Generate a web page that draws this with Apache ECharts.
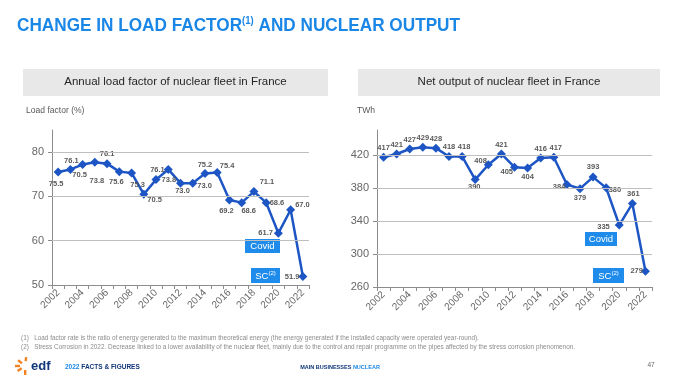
<!DOCTYPE html>
<html>
<head>
<meta charset="utf-8">
<script src="https://cdn.jsdelivr.net/npm/echarts@6/dist/echarts.min.js"></script>
<style>
html,body{margin:0;padding:0;background:#fff;}
#c{width:680px;height:379px;}
</style>
</head>
<body>
<div id="c"></div>
<script>
// ---- data ----
const years = ['2002','2003','2004','2005','2006','2007','2008','2009','2010','2011','2012','2013','2014','2015','2016','2017','2018','2019','2020','2021','2022'];
const loadFactor = [75.5, 76.1, 77.2, 77.7, 77.4, 75.6, 75.3, 70.5, 73.8, 76.1, 73.0, 73.0, 75.2, 75.4, 69.2, 68.6, 71.1, 68.6, 61.7, 67.0, 51.9];
const loadFactorLabels = ['75.5','76.1','70.5','73.8','76.1','75.6','75.3','70.5','73.8','76.1','73.0','73.0','75.2','75.4','69.2','68.6','71.1','68.6','61.7','67.0','51.9'];
const netOutput = [417, 421, 427, 429, 428, 418, 418, 390, 408, 421, 405, 404, 416, 417, 384, 379, 393, 380, 335, 361, 279];
const netOutputLabels = ['417','421','427','429','428','418','418','390','408','421','405','404','416','417','384','379','393','380','335','361','279'];
const loadFactorTicks = [50, 60, 70, 80];
const netOutputTicks = [260, 300, 340, 380, 420];

// ---- label placement (style) ----
const leftPlace = [
  ['bottom',-2,1],['top',1,2],['bottom',-3,0],['bottom',2,8],['top',0,1],['bottom',-3,0],['bottom',6,1],
  ['right',-3,6],['right',-1,0],['left',3,1],['bottom',2,-3],['right',-2,3],['top',0,2],['right',-4,-7],
  ['bottom',-3,0],['bottom',7,-2],['top',13,1],['right',-3,0],['left',1,0],['right',-2,-5],['left',3,0]
];
const rightPlace = [
  ['top',0,1],['top',0,1],['top',0,1],['top',0,1],['top',0,1],['top',0,1],['top',2,1],
  ['bottom',-1,-3],['left',5,-4],['top',0,1],['left',5,5],['bottom',0,-2],['top',0,1],['top',2,1],
  ['left',5,2],['bottom',0,-1],['top',0,0],['right',-4,2],['left',-3,2],['top',1,1],['left',4,0]
];

const FONT = "'Liberation Sans', Arial, sans-serif";
const LINE = '#1d56c4';
const BOX = '#1f8ceb';
const GRAY = '#666666';

function buildData(vals, labels, place) {
  return vals.map((v, i) => ({
    value: v,
    label: { position: place[i][0], offset: [place[i][1], place[i][2]], formatter: labels[i] }
  }));
}

function xAxisCfg(gi) {
  return {
    type: 'category', gridIndex: gi, data: years, boundaryGap: true,
    axisLine: { show: true, lineStyle: { color: '#8c8c8c', width: 1 } },
    axisTick: { show: true, interval: 0, length: 4, lineStyle: { color: '#8c8c8c' } },
    axisLabel: { interval: 1, rotate: 45, fontSize: 10, color: GRAY, fontFamily: FONT, margin: 6 },
    splitLine: { show: false }
  };
}
function yAxisCfg(gi, min, max, ticks) {
  return {
    type: 'value', gridIndex: gi, min: min, max: max,
    axisLine: { show: true, lineStyle: { color: '#8c8c8c', width: 1 } },
    axisTick: { show: true, length: 4, lineStyle: { color: '#8c8c8c' }, customValues: ticks },
    axisLabel: { fontSize: 11, color: GRAY, fontFamily: FONT, margin: 8, customValues: ticks },
    splitLine: { show: false }
  };
}
function seriesCfg(gi, vals, labels, place, grid) {
  return {
    type: 'line', xAxisIndex: gi, yAxisIndex: gi,
    data: buildData(vals, labels, place),
    symbol: 'diamond', symbolSize: 9, showAllSymbol: true,
    lineStyle: { color: LINE, width: 2.5 },
    itemStyle: { color: LINE },
    label: { show: true, fontSize: 7.5, fontWeight: 'bold', color: '#595959', fontFamily: FONT, distance: 2 },
    markLine: {
      silent: true, symbol: 'none', label: { show: false },
      lineStyle: { color: '#bfbfbf', width: 1, type: 'solid' },
      data: grid.map(g => ({ yAxis: g }))
    },
    z: 3
  };
}

function tag(x, y, w, h, content) {
  return {
    type: 'group', children: [
      { type: 'rect', shape: { x: x, y: y, width: w, height: h }, style: { fill: BOX } },
      { type: 'text', x: x + w / 2, y: y + h / 2 + 0.5, style: {
          text: content, align: 'center', verticalAlign: 'middle', fill: '#fff', fontFamily: FONT, fontSize: 9.5,
          rich: { n: { fontSize: 9.5, fill: '#fff', fontFamily: FONT }, s: { fontSize: 6, fill: '#fff', fontFamily: FONT, verticalAlign: 'top', padding: [0,0,5,0] } }
        } }
    ]
  };
}

const chart = echarts.init(document.getElementById('c'), null, { renderer: 'canvas' });

chart.setOption({
  animation: false,
  backgroundColor: '#ffffff',
  grid: [
    { left: 52, top: 130, width: 257, height: 155 },
    { left: 377, top: 130, width: 275, height: 157 }
  ],
  xAxis: [xAxisCfg(0), xAxisCfg(1)],
  yAxis: [yAxisCfg(0, 50, 85, loadFactorTicks), yAxisCfg(1, 260, 450, netOutputTicks)],
  series: [
    seriesCfg(0, loadFactor, loadFactorLabels, leftPlace, [60, 70, 80]),
    seriesCfg(1, netOutput, netOutputLabels, rightPlace, [300, 340, 380, 420])
  ],
  graphic: [
    { type: 'text', x: 17, y: 26, scaleX: 0.955, style: {
        text: '{a|CHANGE IN LOAD FACTOR}{s|(1)}{a| AND NUCLEAR OUTPUT}', verticalAlign: 'middle', align: 'left',
        rich: {
          a: { fontSize: 18, fontWeight: 'bold', fill: '#1a87e6', fontFamily: FONT, lineHeight: 20 },
          s: { fontSize: 10, fontWeight: 'bold', fill: '#1a87e6', fontFamily: FONT, verticalAlign: 'top', lineHeight: 20, padding: [0,0,8,0] }
        }
      } },
    { type: 'rect', shape: { x: 23, y: 69, width: 305, height: 27 }, style: { fill: '#e8e8e8' } },
    { type: 'rect', shape: { x: 358, y: 69, width: 302, height: 27 }, style: { fill: '#e8e8e8' } },
    { type: 'text', x: 175.5, y: 82, style: { text: 'Annual load factor of nuclear fleet in France', align: 'center', verticalAlign: 'middle', fontSize: 11.5, fill: '#262626', fontFamily: FONT } },
    { type: 'text', x: 509, y: 82, style: { text: 'Net output of nuclear fleet in France', align: 'center', verticalAlign: 'middle', fontSize: 11.5, fill: '#262626', fontFamily: FONT } },
    { type: 'text', x: 26, y: 110, scaleX: 0.9, style: { text: 'Load factor (%)', verticalAlign: 'middle', fontSize: 9.5, fill: '#595959', fontFamily: FONT } },
    { type: 'text', x: 357, y: 110, scaleX: 0.9, style: { text: 'TWh', verticalAlign: 'middle', fontSize: 9.5, fill: '#595959', fontFamily: FONT } },
    tag(245, 239, 35, 14, '{n|Covid}'),
    tag(251, 268, 29, 15, '{n|SC}{s|(2)}'),
    tag(585, 232, 32, 14, '{n|Covid}'),
    tag(593, 268, 31, 15, '{n|SC}{s|(2)}'),
    { type: 'text', x: 21, y: 338, style: { text: '(1)   Load factor rate is the ratio of energy generated to the maximum theoretical energy (the energy generated if the installed capacity were operated year-round).', verticalAlign: 'middle', fontSize: 6.4, fill: '#8c8c8c', fontFamily: FONT } },
    { type: 'text', x: 21, y: 347, style: { text: '(2)   Stress Corrosion in 2022. Decrease linked to a lower availability of the nuclear fleet, mainly due to the control and repair programme on the pipes affected by the stress corrosion phenomenon.', verticalAlign: 'middle', fontSize: 6.4, fill: '#8c8c8c', fontFamily: FONT } },
    { type: 'text', x: 65, y: 367, style: { text: '{b|2022 }{c|FACTS & FIGURES}', verticalAlign: 'middle',
        rich: { b: { fontSize: 6.5, fontWeight: 'bold', fill: '#1a87e6', fontFamily: FONT }, c: { fontSize: 6.5, fontWeight: 'bold', fill: '#10367a', fontFamily: FONT } } } },
    { type: 'text', x: 340, y: 367, scaleX: 0.92, style: { text: '{c|MAIN BUSINESSES }{b|NUCLEAR}', align: 'center', verticalAlign: 'middle',
        rich: { b: { fontSize: 6, fontWeight: 'bold', fill: '#1a87e6', fontFamily: FONT }, c: { fontSize: 6, fontWeight: 'bold', fill: '#10367a', fontFamily: FONT } } } },
    { type: 'text', x: 651, y: 365, style: { text: '47', align: 'center', verticalAlign: 'middle', fontSize: 6.5, fill: '#666', fontFamily: FONT } },
    { type: 'text', x: 31, y: 366, style: { text: 'edf', verticalAlign: 'middle', fontSize: 13, fontWeight: 'bold', fill: '#10367a', fontFamily: FONT } },
    { type: 'group', x: 25, y: 366, children: [
      { type: 'rect', rotation: 0.6, shape: { x: -9, y: -1.2, width: 5, height: 2.4 }, style: { fill: '#f58220' } },
      { type: 'rect', rotation: -0.7, shape: { x: -9, y: -1.2, width: 5, height: 2.4 }, style: { fill: '#f58220' } },
      { type: 'rect', rotation: 1.6, shape: { x: -9, y: -1.2, width: 5, height: 2.4 }, style: { fill: '#f58220' } },
      { type: 'rect', rotation: -1.7, shape: { x: -9, y: -1.2, width: 4, height: 2.4 }, style: { fill: '#f58220' } },
      { type: 'rect', rotation: 0, shape: { x: -10, y: -1.2, width: 5, height: 2.4 }, style: { fill: '#f58220' } }
    ] }
  ]
});
</script>
</body>
</html>
